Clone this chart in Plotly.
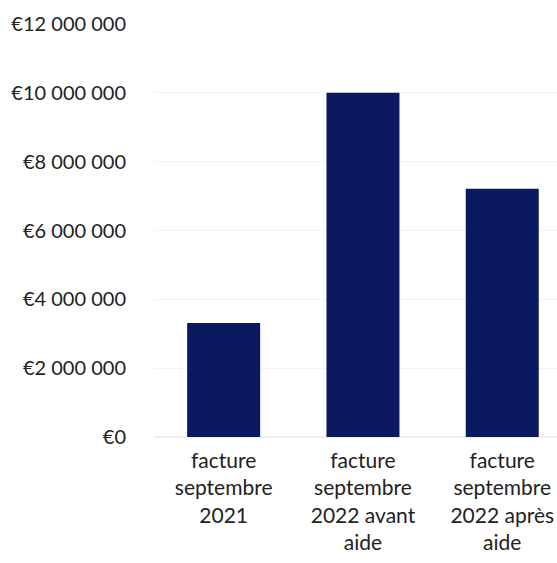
import plotly.graph_objects as go

categories = ["facture<br>septembre<br>2021", "facture<br>septembre<br>2022 avant<br>aide", "facture<br>septembre<br>2022 après<br>aide"]
values = [3310000, 10000000, 7210000]
tick_values = [0, 2000000, 4000000, 6000000, 8000000, 10000000, 12000000]
tick_labels = ["€0", "€2 000 000", "€4 000 000", "€6 000 000", "€8 000 000", "€10 000 000", "€12 000 000"]

fig = go.Figure(go.Bar(x=categories, y=values, marker=dict(color="#0b1a60", line=dict(width=0))))

fig.update_layout(
    width=557, height=563,
    margin=dict(l=154, r=0, t=24, b=126, autoexpand=False),
    paper_bgcolor="white", plot_bgcolor="white",
    bargap=0.476,
    showlegend=False,
    font=dict(family="Lato", size=20, color="#222222"),
)
fig.update_xaxes(
    type="category",
    range=[-0.5, 2.393],
    automargin=False,
    showgrid=False, showline=False, zeroline=False,
    ticks="", tickangle=0,
    ticklabelstandoff=9,
    tickfont=dict(family="Lato", size=21, color="#222222"),
)
fig.update_yaxes(
    range=[0, 12000000],
    automargin=False,
    tickvals=tick_values, ticktext=tick_labels,
    showgrid=True, gridcolor="#f3f3f3", gridwidth=1,
    zeroline=True, zerolinecolor="#f0f0f0",
    showline=False, ticks="",
    ticklabelstandoff=27,
    tickfont=dict(family="Lato", size=20, color="#222222"),
)

fig.write_html(
    "out.html",
    config={"displayModeBar": False},
    post_script="document.body.style.margin='0';document.body.style.overflow='hidden';",
)
